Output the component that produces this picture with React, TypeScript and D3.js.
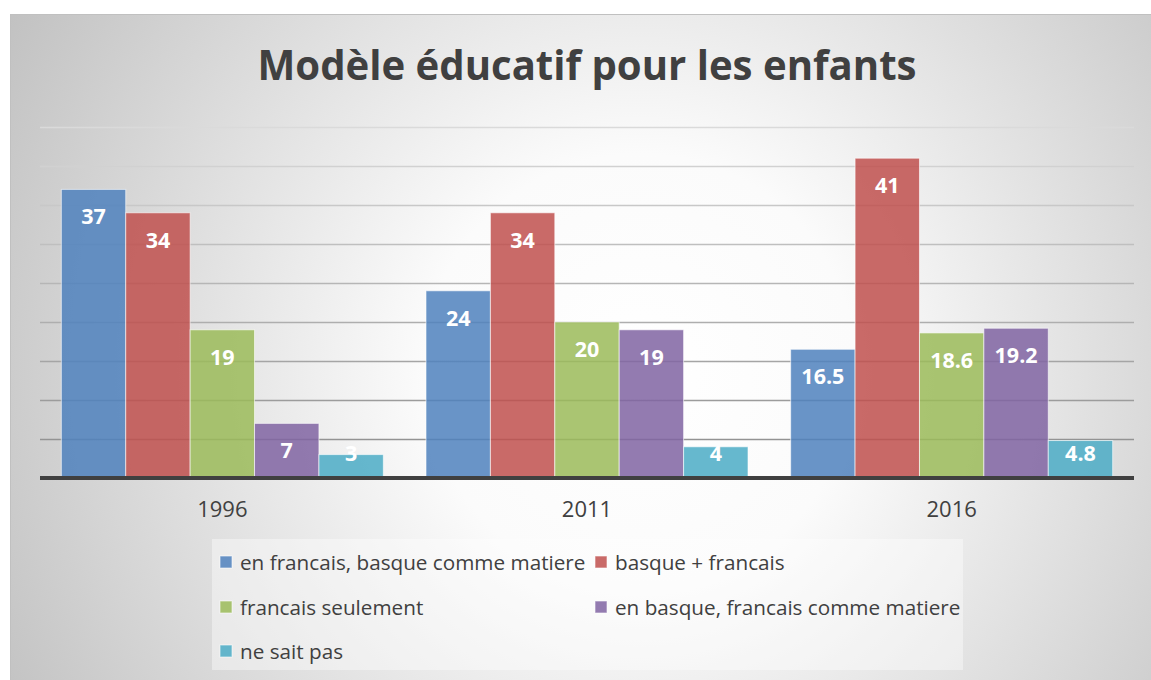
import React, { useEffect, useRef } from "react";
import * as d3 from "d3";

// chart values
const years = ["1996", "2011", "2016"];
const series = [
  "en francais, basque comme matiere",
  "basque + francais",
  "francais seulement",
  "en basque, francais comme matiere",
  "ne sait pas",
];
const enFrancais = [37, 24, 16.5];
const basqueFrancais = [34, 34, 41];
const francaisSeul = [19, 20, 18.6];
const enBasque = [7, 19, 19.2];
const neSaitPas = [3, 4, 4.8];
const yTicks = [0, 5, 10, 15, 20, 25, 30, 35, 40, 45];
const colors = ["#4F81BD", "#C0504D", "#9BBB59", "#8064A2", "#4BACC6"];

const W = 1151;
const H = 680;
const FONT = "'Open Sans', 'Segoe UI', sans-serif";

const App = () => {
  const svgRef = useRef(null);

  useEffect(() => {
    const svg = d3.select(svgRef.current);
    svg.selectAll("*").remove(); // clear before redraw

    const values = [enFrancais, basqueFrancais, francaisSeul, enBasque, neSaitPas];

    // background gradient
    const defs = svg.append("defs");
    const grad = defs
      .append("radialGradient")
      .attr("id", "bg")
      .attr("gradientUnits", "userSpaceOnUse")
      .attr("cx", 640)
      .attr("cy", 370)
      .attr("r", 720);
    grad.append("stop").attr("offset", 0).attr("stop-color", "#ffffff");
    grad.append("stop").attr("offset", 0.3).attr("stop-color", "#fbfbfb");
    grad.append("stop").attr("offset", 1).attr("stop-color", "#c2c2c2");

    svg
      .append("rect")
      .attr("x", 10.5)
      .attr("y", 14.5)
      .attr("width", W)
      .attr("height", H)
      .attr("fill", "url(#bg)")
      .attr("stroke", "#c0c0c0");

    // scales
    const x0 = d3
      .scaleBand()
      .domain(years)
      .range([40, 1134])
      .paddingInner(0.117)
      .paddingOuter(0.0585);
    const x1 = d3
      .scaleBand()
      .domain(series)
      .range([0, x0.bandwidth()]);
    const y = d3.scaleLinear().domain([0, 45]).range([478, 127]);
    const gridColor = d3.interpolateRgb("#8a8a8a", "#dadada");

    // gridlines
    svg
      .append("g")
      .selectAll("line")
      .data(yTicks.filter((t) => t > 0))
      .enter()
      .append("line")
      .attr("x1", 40)
      .attr("x2", 1134)
      .attr("y1", (d) => y(d) + 0.5)
      .attr("y2", (d) => y(d) + 0.5)
      .attr("stroke", (d) => gridColor(d / 45))
      .attr("stroke-width", 1.5);

    // bars
    const groups = svg
      .append("g")
      .selectAll("g")
      .data(years)
      .enter()
      .append("g")
      .attr("transform", (d) => `translate(${x0(d)},0)`);

    groups.each(function (year, yi) {
      const g = d3.select(this);
      series.forEach((s, si) => {
        const v = values[si][yi];
        g.append("rect")
          .attr("x", x1(s))
          .attr("y", y(v))
          .attr("width", x1.bandwidth())
          .attr("height", y(0) - y(v))
          .attr("fill", colors[si])
          .attr("fill-opacity", 0.85)
          .attr("stroke", "#ffffff")
          .attr("stroke-opacity", 0.6)
          .attr("stroke-width", 1);
        // label at inside end, kept clear of the axis on short bars
        g.append("text")
          .attr("x", x1(s) + x1.bandwidth() / 2)
          .attr("y", Math.min(y(v) + 35, 461))
          .attr("text-anchor", "middle")
          .style("font-family", FONT)
          .style("font-weight", 700)
          .style("font-size", "21.5px")
          .attr("fill", "#ffffff")
          .text(String(v));
      });
    });

    // axis line
    svg
      .append("line")
      .attr("x1", 40)
      .attr("x2", 1134)
      .attr("y1", y(0))
      .attr("y2", y(0))
      .attr("stroke", "#404040")
      .attr("stroke-width", 4);

    // category labels
    svg
      .append("g")
      .selectAll("text")
      .data(years)
      .enter()
      .append("text")
      .attr("x", (d) => x0(d) + x0.bandwidth() / 2)
      .attr("y", 517)
      .attr("text-anchor", "middle")
      .style("font-family", FONT)
      .style("font-size", "22px")
      .attr("fill", "#404040")
      .text((d) => d);

    // title
    svg
      .append("text")
      .attr("x", 587)
      .attr("y", 80)
      .attr("text-anchor", "middle")
      .attr("textLength", 659)
      .attr("lengthAdjust", "spacingAndGlyphs")
      .style("font-family", FONT)
      .style("font-weight", 700)
      .style("font-size", "42px")
      .attr("fill", "#404040")
      .text("Modèle éducatif pour les enfants");

    // legend
    const legend = svg.append("g");
    legend
      .append("rect")
      .attr("x", 212)
      .attr("y", 539)
      .attr("width", 751)
      .attr("height", 131)
      .attr("fill", "#ffffff")
      .attr("fill-opacity", 0.4);

    const legendPos = [
      [220, 570],
      [595, 570],
      [220, 615],
      [595, 615],
      [220, 659],
    ];
    series.forEach((s, i) => {
      const [lx, ly] = legendPos[i];
      legend
        .append("rect")
        .attr("x", lx)
        .attr("y", ly - 14)
        .attr("width", 12)
        .attr("height", 12)
        .attr("fill", colors[i])
        .attr("fill-opacity", 0.85)
        .attr("stroke", "#ffffff")
        .attr("stroke-opacity", 0.6);
      legend
        .append("text")
        .attr("x", lx + 20)
        .attr("y", ly)
        .style("font-family", FONT)
        .style("font-size", "20.7px")
        .attr("fill", "#404040")
        .text(s);
    });
  }, []);

  return (
    <svg
      ref={svgRef}
      width={W}
      height={H}
      style={{ position: "absolute", left: 0, top: 0, display: "block" }}
    ></svg>
  );
};

export default App;
